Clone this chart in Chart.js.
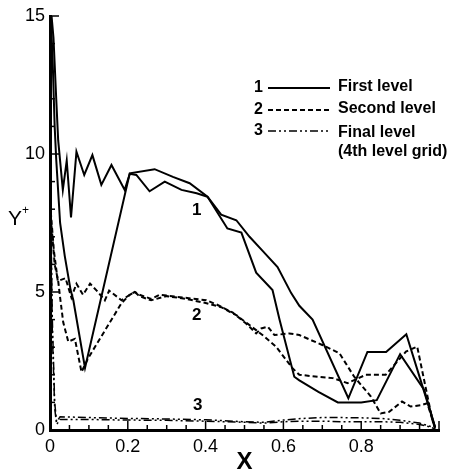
<!DOCTYPE html>
<html><head><meta charset="utf-8">
<script src="https://cdn.jsdelivr.net/npm/chart.js@4.4.0/dist/chart.umd.min.js"></script>
<style>html,body{margin:0;padding:0;background:#fff;}#wrap{width:451px;height:473px;position:relative;}</style>
</head><body><div id="wrap"><canvas id="c" width="451" height="473"></canvas></div>
<script>
const xTicks = [0, 0.2, 0.4, 0.6, 0.8];
const yTicks = [0, 5, 10, 15];
const legendNames = ['First level', 'Second level', 'Final level', '(4th level grid)'];
const curveLabels = ['1', '2', '3'];

// Series 1 (first level) - two solid curves
const s1aX = [0.002,0.007,0.012,0.016,0.026,0.038,0.053,0.06,0.09,0.205,0.269,0.316,0.359,0.405,0.44,0.479,0.513,0.546,0.585,0.62,0.641,0.675,0.767,0.816,0.864,0.916,0.966,0.99];
const s1aY = [15,13.3,11,9.8,7.5,6.3,5.07,4.7,2.25,9.3,9.45,9.17,8.94,8.45,7.8,7.6,7.0,6.5,5.9,4.96,4.5,4.0,1.15,2.83,2.83,3.47,1.2,0.1];
const s1bX = [0.004,0.009,0.016,0.021,0.033,0.043,0.054,0.068,0.088,0.109,0.132,0.158,0.192,0.205,0.222,0.256,0.295,0.338,0.377,0.405,0.456,0.492,0.53,0.572,0.59,0.628,0.641,0.69,0.74,0.8,0.84,0.9,0.962,0.99];
const s1bY = [15,14.2,12,10.5,8.7,9.76,7.7,10.08,9.24,9.96,8.88,9.6,8.7,9.28,9.24,8.65,9.0,8.7,8.58,8.45,7.3,7.15,5.7,5.07,4.0,1.93,1.8,1.38,1.0,1.0,1.08,2.75,1.45,0.1];
// Series 2 (second level) - two dashed curves
const s2aX = [0.002,0.01,0.02,0.04,0.055,0.068,0.085,0.103,0.12,0.141,0.152,0.184,0.205,0.218,0.23,0.26,0.282,0.341,0.402,0.428,0.47,0.504,0.53,0.543,0.56,0.577,0.615,0.641,0.7,0.744,0.782,0.825,0.85,0.872,0.905,0.927,0.953,0.97,0.99];
const s2aY = [7.9,6.5,5.4,5.5,4.8,5.3,4.9,5.3,5.05,4.7,5.05,4.7,4.9,5.0,4.9,4.75,4.9,4.8,4.7,4.55,4.25,3.86,3.5,3.68,3.74,3.44,3.5,3.44,3.08,2.78,1.93,1.21,0.6,0.66,1.03,0.85,0.9,0.97,0.05];
const s2bX = [0.002,0.012,0.021,0.026,0.034,0.047,0.064,0.081,0.098,0.141,0.184,0.205,0.218,0.23,0.26,0.3,0.35,0.4,0.44,0.48,0.513,0.55,0.581,0.624,0.641,0.688,0.727,0.765,0.812,0.863,0.915,0.944,0.983,0.99];
const s2bY = [7.7,6.0,5.4,4.8,3.9,3.2,3.3,2.1,2.6,3.6,4.6,4.9,5.0,4.85,4.7,4.85,4.75,4.6,4.45,4.15,3.8,3.4,3.02,2.23,2.0,1.93,1.88,1.7,2.0,2.0,2.84,3.02,0.36,0.05];
// Series 3 (final level) - two dash-dot curves
const s3X  = [0.002,0.006,0.012,0.017,0.026,0.1,0.2,0.3,0.4,0.5,0.55,0.6,0.65,0.7,0.75,0.8,0.85,0.9,0.95,0.98,0.99];
const s3aY = [7.8,4.0,1.0,0.3,0.48,0.45,0.42,0.4,0.37,0.3,0.28,0.36,0.42,0.45,0.45,0.44,0.42,0.35,0.25,0.12,0.02];
const s3bY = [7.6,3.5,0.8,0.2,0.38,0.38,0.36,0.35,0.32,0.28,0.25,0.3,0.32,0.32,0.3,0.3,0.3,0.28,0.2,0.1,0.02];

const FONT = '"Liberation Sans", Arial, sans-serif';
const SOLID = [], DASH = [5,3], DASHDOT = [8,3,2,3,2,3];
function pts(xs, ys){ return xs.map((x,i)=>({x:x, y:ys[i]})); }
function ds(xs, ys, dash, w){ return {data: pts(xs,ys), showLine:true, borderColor:'#000', borderWidth:w, borderDash:dash, pointRadius:0, tension:0, fill:false}; }

const decor = {
  id:'decor',
  afterDraw(chart){
    const ctx = chart.ctx, xs = chart.scales.x, ys = chart.scales.y, a = chart.chartArea;
    ctx.save();
    ctx.strokeStyle = '#000'; ctx.lineWidth = 1.5; ctx.setLineDash([]);
    // inward ticks
    for (let i = 0; i <= 20; i++) {
      const px = xs.getPixelForValue(i*0.05), len = (i%4===0) ? 9 : 5;
      ctx.beginPath(); ctx.moveTo(px, a.bottom); ctx.lineTo(px, a.bottom-len); ctx.stroke();
    }
    for (let i = 0; i <= 15; i++) {
      const py = ys.getPixelForValue(i), len = (i%5===0) ? 9 : 5;
      ctx.beginPath(); ctx.moveTo(a.left, py); ctx.lineTo(a.left+len, py); ctx.stroke();
    }
    ctx.fillStyle = '#000';
    // curve labels
    ctx.font = 'bold 17px ' + FONT; ctx.textAlign = 'center'; ctx.textBaseline = 'middle';
    ctx.fillText(curveLabels[0], xs.getPixelForValue(0.377), ys.getPixelForValue(7.95));
    ctx.fillText(curveLabels[1], xs.getPixelForValue(0.377), ys.getPixelForValue(4.17));
    ctx.fillText(curveLabels[2], xs.getPixelForValue(0.38), ys.getPixelForValue(0.9));
    // axis titles
    ctx.font = 'bold 24px ' + FONT;
    ctx.fillText('X', (a.left+a.right)/2, 462);
    ctx.textAlign = 'left'; ctx.textBaseline = 'alphabetic';
    ctx.font = '21px ' + FONT; ctx.fillText('Y', 8, 225);
    ctx.font = '12px ' + FONT; ctx.fillText('+', 22, 214);
    // legend
    const rows = [87, 109, 130];
    const dashes = [SOLID, DASH, DASHDOT];
    ctx.font = 'bold 16px ' + FONT; ctx.textBaseline = 'middle';
    for (let i = 0; i < 3; i++) {
      ctx.setLineDash([]);
      ctx.textAlign = 'left';
      ctx.fillText(curveLabels[i], 254, rows[i]+1);
      ctx.fillText(legendNames[i], 338, rows[i] + (i===2 ? 3 : 0));
      ctx.setLineDash(dashes[i]); ctx.lineWidth = (i===2) ? 1.5 : 2;
      ctx.beginPath(); ctx.moveTo(268, rows[i]+1); ctx.lineTo(330, rows[i]+1); ctx.stroke();
    }
    ctx.setLineDash([]);
    ctx.fillText(legendNames[3], 338, 152);
    ctx.restore();
  }
};

new Chart(document.getElementById('c'), {
  type: 'scatter',
  data: { datasets: [
    ds(s1aX, s1aY, SOLID, 2), ds(s1bX, s1bY, SOLID, 2),
    ds(s2aX, s2aY, DASH, 2), ds(s2bX, s2bY, DASH, 2),
    ds(s3X, s3aY, DASHDOT, 1.5), ds(s3X, s3bY, DASHDOT, 1.5)
  ]},
  options: {
    responsive:false, animation:false, devicePixelRatio:1,
    layout:{padding:{top:16, right:12, bottom:0, left:0}},
    plugins:{legend:{display:false}, tooltip:{enabled:false}},
    scales:{
      x:{type:'linear', position:'bottom', min:0, max:1,
        grid:{display:false, drawTicks:false},
        border:{display:true, width:3, color:'#000'},
        afterBuildTicks: s => { s.ticks = xTicks.map(v=>({value:v})); },
        afterFit: s => { s.height = 43; },
        ticks:{color:'#000', padding:6, font:{family:FONT, size:18}, maxRotation:0, autoSkip:false,
          callback: v => (v===0 ? '0' : String(v))}
      },
      y:{type:'linear', position:'left', min:0, max:15,
        grid:{display:false, drawTicks:false},
        border:{display:true, width:3, color:'#000'},
        afterBuildTicks: s => { s.ticks = yTicks.map(v=>({value:v})); },
        afterFit: s => { s.width = 50; },
        ticks:{color:'#000', padding:5, font:{family:FONT, size:18}, autoSkip:false}
      }
    }
  },
  plugins:[decor]
});
</script></body></html>
